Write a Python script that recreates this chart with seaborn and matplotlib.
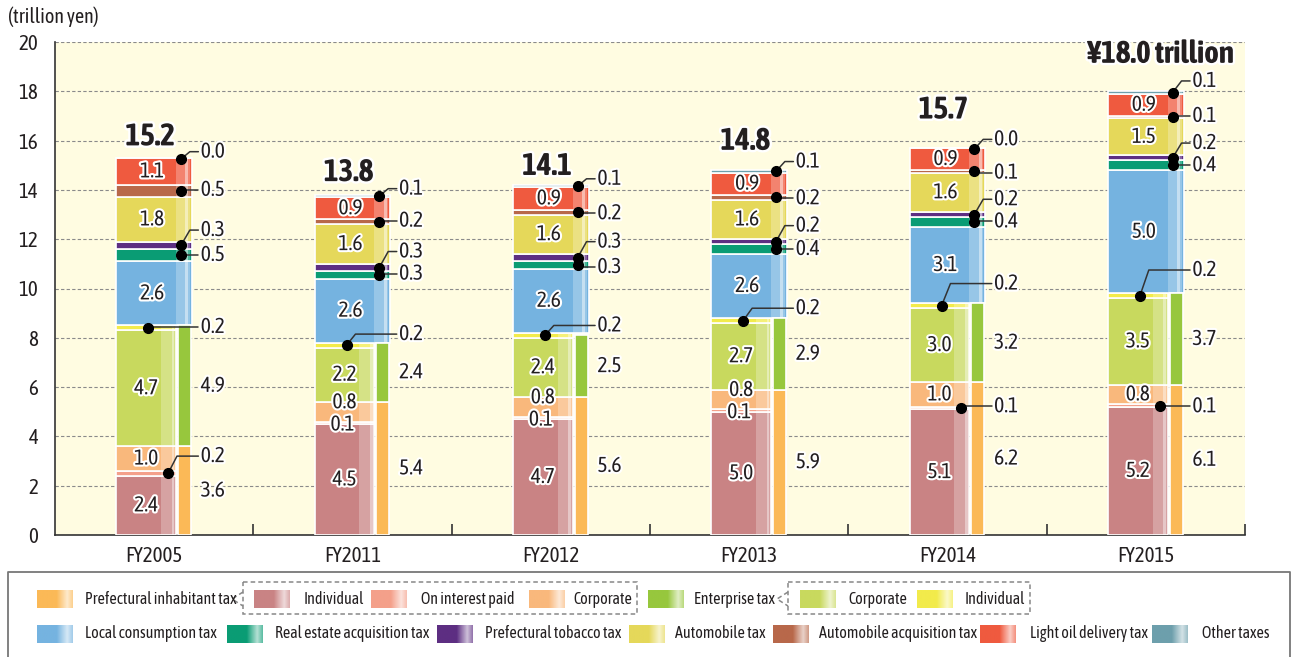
import matplotlib
matplotlib.use('Agg')
import matplotlib.pyplot as plt
import matplotlib.patheffects as pe
import matplotlib.font_manager as fm
from matplotlib.patches import Rectangle
import numpy as np
import seaborn as sns

# values in trillion yen
years = ['FY2005', 'FY2011', 'FY2012', 'FY2013', 'FY2014', 'FY2015']
pref_individual = [2.4, 4.5, 4.7, 5.0, 5.1, 5.2]
pref_interest = [0.2, 0.1, 0.1, 0.1, 0.1, 0.1]
pref_corporate = [1.0, 0.8, 0.8, 0.8, 1.0, 0.8]
ent_corporate = [4.7, 2.2, 2.4, 2.7, 3.0, 3.5]
ent_individual = [0.2, 0.2, 0.2, 0.2, 0.2, 0.2]
local_consumption = [2.6, 2.6, 2.6, 2.6, 3.1, 5.0]
real_estate = [0.5, 0.3, 0.3, 0.4, 0.4, 0.4]
tobacco = [0.3, 0.3, 0.3, 0.2, 0.2, 0.2]
automobile = [1.8, 1.6, 1.6, 1.6, 1.6, 1.5]
auto_acquisition = [0.5, 0.2, 0.2, 0.2, 0.1, 0.1]
light_oil = [1.1, 0.9, 0.9, 0.9, 0.9, 0.9]
other_taxes = [0.0, 0.1, 0.1, 0.1, 0.0, 0.1]
pref_total = [3.6, 5.4, 5.6, 5.9, 6.2, 6.1]
ent_total = [4.9, 2.4, 2.5, 2.9, 3.2, 3.7]
totals = [15.2, 13.8, 14.1, 14.8, 15.7, 18.0]
total_labels = ['15.2', '13.8', '14.1', '14.8', '15.7', '¥18.0 trillion']

# where the callout texts sit (y in trillion yen)
other_label_y = [15.55, 14.05, 14.45, 15.15, 16.05, 18.42]
autoacq_label_y = [14.0, 12.75, 13.05, 13.66, 14.7, 17.0]
tobacco_label_y = [12.37, 11.5, 11.9, 12.55, 13.62, 15.9]
realestate_label_y = [11.36, 10.6, 10.87, 11.6, 12.72, 15.0]
entind_label_y = [8.44, 8.15, 8.5, 9.2, 10.2, 10.75]
interest_label_y = [3.2, None, None, None, 5.22, 5.22]
total_label_y = [16.15, 14.7, 14.95, 15.97, 17.24, 19.5]

colors = {
    'pref': '#fbb957', 'pref_ind': '#c98384', 'pref_int': '#f4a08a', 'pref_corp': '#f9b87c',
    'ent': '#97c73d', 'ent_corp': '#c8d95e', 'ent_ind': '#f2eb4b',
    'local': '#75b3e0', 'real': '#0a9c74', 'tobacco': '#5d2e82', 'auto': '#e5d85a',
    'autoacq': '#b8684a', 'oil': '#ef5a3f', 'other': '#6d9fac',
}

sns.set_theme(style='white')

# the original uses a condensed sans; take one if the machine has it
BOLDS = ('bold', '700', '800', '900', 'heavy', 'black', 'extra bold', 'semibold', '600', 'demibold')
narrow = [f for f in fm.fontManager.ttflist if 'Narrow' in f.name or 'Condensed' in f.name]
narrow_names = sorted(set(f.name for f in narrow))
with_bold = [n for n in narrow_names
             if any(f.name == n and str(f.weight).lower() in BOLDS for f in narrow)]
real_bold = bool(with_bold)
if with_bold:
    plt.rcParams['font.family'] = [with_bold[0], 'DejaVu Sans']
elif narrow_names:
    plt.rcParams['font.family'] = [narrow_names[0], 'DejaVu Sans']
else:
    plt.rcParams['font.family'] = ['Roboto', 'DejaVu Sans']

TXT = '#231f20'
halo = [pe.withStroke(linewidth=3, foreground='white')]
if real_bold:
    bold_fx = [pe.withStroke(linewidth=3.5, foreground='white')]
else:
    bold_fx = [pe.withStroke(linewidth=4.5, foreground='white'),
               pe.withStroke(linewidth=1.3, foreground=TXT), pe.Normal()]

fig = plt.figure(figsize=(12.96, 6.57), dpi=100)
ax = fig.add_axes([55 / 1296, 1 - 535 / 657, 1190 / 1296, 493 / 657])
ax.set_facecolor('#fffce1')

x = np.arange(len(years))
bottom = np.zeros(len(years))

lower = [(pref_individual, 'pref_ind'), (pref_interest, 'pref_int'), (pref_corporate, 'pref_corp'),
         (ent_corporate, 'ent_corp'), (ent_individual, 'ent_ind')]
upper = [(local_consumption, 'local'), (real_estate, 'real'), (tobacco, 'tobacco'),
         (automobile, 'auto'), (auto_acquisition, 'autoacq'), (light_oil, 'oil'),
         (other_taxes, 'other')]

starts = {}
for vals, key in lower:
    v = np.array(vals)
    ax.bar(x - 0.04, v, width=0.30, bottom=bottom, color=colors[key],
           edgecolor='white', linewidth=1.2, zorder=3)
    ax.bar(x + 0.07, v, width=0.07, bottom=bottom, color='white', alpha=0.25, linewidth=0, zorder=4)
    ax.bar(x + 0.095, v, width=0.015, bottom=bottom, color='white', alpha=0.4, linewidth=0, zorder=4)
    starts[key] = bottom.copy()
    bottom += v

for vals, key in upper:
    v = np.array(vals)
    ax.bar(x, v, width=0.38, bottom=bottom, color=colors[key],
           edgecolor='white', linewidth=1.2, zorder=3)
    ax.bar(x + 0.145, v, width=0.07, bottom=bottom, color='white', alpha=0.25, linewidth=0, zorder=4)
    ax.bar(x + 0.165, v, width=0.015, bottom=bottom, color='white', alpha=0.45, linewidth=0, zorder=4)
    starts[key] = bottom.copy()
    bottom += v
top = bottom.copy()

# narrow side bars with the tax totals
ax.bar(x + 0.1525, pref_total, width=0.065, color=colors['pref'], edgecolor='white', linewidth=1.2, zorder=3)
ax.bar(x + 0.1525, ent_total, width=0.065, bottom=pref_total, color=colors['ent'],
       edgecolor='white', linewidth=1.2, zorder=3)


def label(xv, yv, s, ha='center'):
    ax.text(xv, yv, s, ha=ha, va='center', fontsize=15.5, color=TXT,
            path_effects=halo, zorder=6)


def inside(i, key, vals, dx, dy=0.0):
    label(i + dx, starts[key][i] + vals[i] / 2 + dy, f'{vals[i]:.1f}')


def callout(i, xd, yd, ly, val):
    lx = i + 0.235
    ex = xd + 0.045 if abs(ly - yd) > 0.15 else xd
    ax.plot([xd, ex, lx - 0.012], [yd, ly, ly], color='#333333', lw=1.1, zorder=6)
    ax.plot(xd, yd, 'o', color='black', ms=7, zorder=7)
    label(lx, ly, f'{val:.1f}', ha='left')


for i in range(len(years)):
    inside(i, 'pref_ind', pref_individual, -0.04)
    inside(i, 'ent_corp', ent_corporate, -0.04)
    inside(i, 'local', local_consumption, -0.01)
    inside(i, 'auto', automobile, -0.01)
    inside(i, 'oil', light_oil, -0.01)

    if interest_label_y[i] is None:
        # tiny segment labelled in place, squeezed against the one above
        inside(i, 'pref_corp', pref_corporate, -0.04, 0.38)
        label(i - 0.05, starts['pref_int'][i] - 0.02, f'{pref_interest[i]:.1f}')
    else:
        inside(i, 'pref_corp', pref_corporate, -0.04)
        callout(i, i + 0.07, starts['pref_int'][i] + pref_interest[i] / 2, interest_label_y[i], pref_interest[i])

    callout(i, i - 0.03, starts['ent_ind'][i] + ent_individual[i] / 2, entind_label_y[i], ent_individual[i])
    callout(i, i + 0.135, starts['real'][i] + real_estate[i] / 2, realestate_label_y[i], real_estate[i])
    callout(i, i + 0.135, starts['tobacco'][i] + tobacco[i] / 2, tobacco_label_y[i], tobacco[i])
    callout(i, i + 0.135, starts['autoacq'][i] + auto_acquisition[i] / 2, autoacq_label_y[i], auto_acquisition[i])
    callout(i, i + 0.135, top[i] - 0.05, other_label_y[i], other_taxes[i])

    # side totals
    label(i + 0.235, pref_total[i] / 2, f'{pref_total[i]:.1f}', ha='left')
    label(i + 0.235, pref_total[i] + ent_total[i] / 2, f'{ent_total[i]:.1f}', ha='left')

    tx = i + 0.075 if i == len(years) - 1 else i - 0.02
    ax.text(tx, total_label_y[i], total_labels[i], ha='center', va='center', fontsize=22.5,
            fontweight='bold', color=TXT, path_effects=bold_fx, zorder=6)

ax.set_xlim(-0.5, 5.5)
ax.set_ylim(0, 20)
ax.set_yticks(range(0, 21, 2))
ax.set_xticks(x, years)
ax.set_xticks(np.arange(0.5, 5.6, 1), minor=True)
ax.tick_params(axis='x', which='major', length=0, pad=8, labelsize=15, labelcolor=TXT)
ax.tick_params(axis='x', which='minor', direction='in', length=8, width=1.2, color='#333333', bottom=True)
ax.tick_params(axis='y', length=0, pad=12, labelsize=15, labelcolor=TXT)
ax.yaxis.grid(True, linestyle=(0, (3, 2)), color='#8a8a8a', lw=0.8)
ax.set_axisbelow(True)
for s in ['top', 'right']:
    ax.spines[s].set_visible(False)
for s in ['left', 'bottom']:
    ax.spines[s].set_color('#333333')
    ax.spines[s].set_linewidth(1.2)

# overlay in pixel coordinates for the unit note and the legend
ov = fig.add_axes([0, 0, 1, 1])
ov.set_xlim(0, 1296)
ov.set_ylim(657, 0)
ov.axis('off')
ov.patch.set_alpha(0)

ov.text(8, 17, '(trillion yen)', ha='left', va='center', fontsize=14.5, color=TXT)

ov.plot([8, 8, 1290, 1290], [660, 572, 572, 660], color='#777777', lw=1.3)


def swatch(x0, yc, col):
    rgb = np.array(matplotlib.colors.to_rgb(col))
    t = np.linspace(0, 1, 40)
    f = np.interp(t, [0, 0.55, 0.85, 1.0], [0, 0, 0.7, 0.35])
    img = rgb[None, :] * (1 - f[:, None]) + f[:, None]
    ov.imshow(img[None, :, :], extent=(x0, x0 + 36, yc + 9, yc - 9), aspect='auto', zorder=3)


row1 = [(37, 85, 'pref', 'Prefectural inhabitant tax'), (254, 304, 'pref_ind', 'Individual'),
        (371, 421, 'pref_int', 'On interest paid'), (529, 573, 'pref_corp', 'Corporate'),
        (648, 694, 'ent', 'Enterprise tax'), (800, 848, 'ent_corp', 'Corporate'),
        (917, 965, 'ent_ind', 'Individual')]
row2 = [(37, 85, 'local', 'Local consumption tax'), (227, 275, 'real', 'Real estate acquisition tax'),
        (437, 485, 'tobacco', 'Prefectural tobacco tax'), (629, 675, 'auto', 'Automobile tax'),
        (773, 819, 'autoacq', 'Automobile acquisition tax'), (980, 1030, 'oil', 'Light oil delivery tax'),
        (1152, 1202, 'other', 'Other taxes')]
for yc, row in [(599, row1), (634, row2)]:
    for sx, tx, key, lab in row:
        swatch(sx, yc, colors[key])
        ov.text(tx, yc, lab, ha='left', va='center', fontsize=11.5, color=TXT)

dash = dict(color='#888888', lw=1.1, linestyle=(0, (3, 2)))
for bx0, bx1 in [(243, 637), (788, 1030)]:
    ov.add_patch(Rectangle((bx0, 582), bx1 - bx0, 32, fill=False, edgecolor='#888888',
                           lw=1.1, linestyle=(0, (3, 2))))
    ov.plot([bx0, bx0 - 11, bx0], [592, 599, 606], **dash)

fig.savefig('out.png', dpi=100)
